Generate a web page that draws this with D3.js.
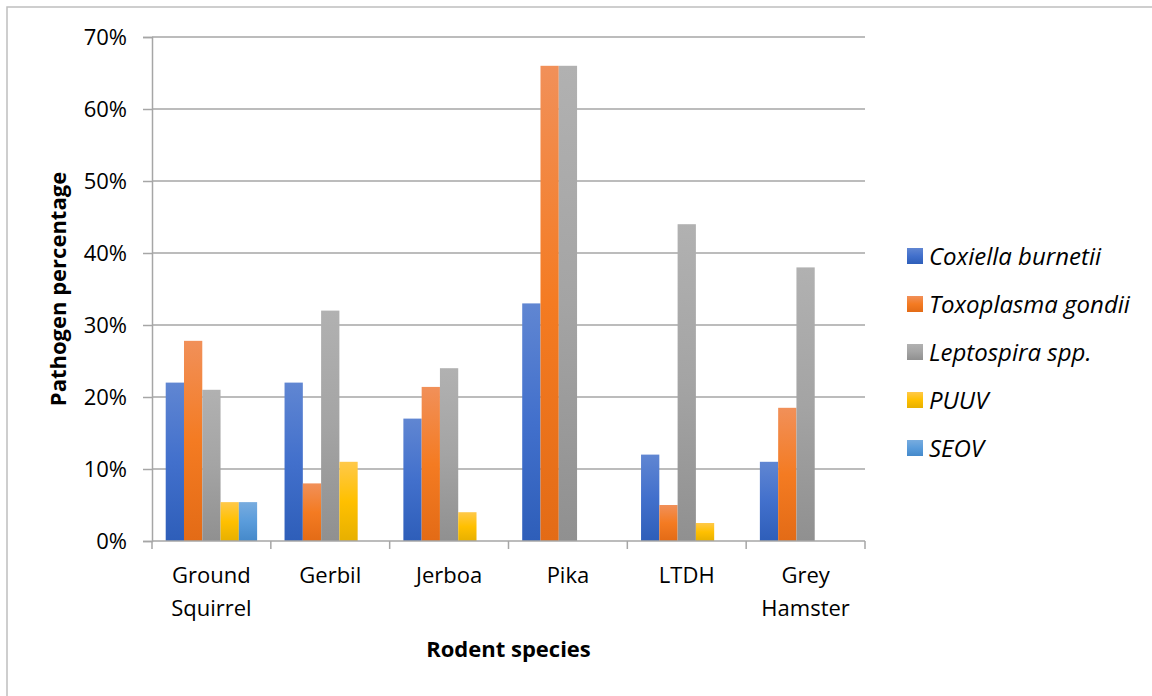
<!DOCTYPE html>
<html lang="en">
<head>
    <meta charset="UTF-8">
    <title>Pathogen percentage by rodent species</title>
    <script src="https://d3js.org/d3.v7.min.js"></script>
    <style>
        body {
            margin: 0;
            background-color: #ffffff;
            font-family: "Open Sans", Arial, sans-serif;
        }
        svg text {
            fill: #000000;
        }
    </style>
</head>
<body>
    <svg width="1152" height="696"></svg>

    <script>
        // Data
        var categories = [["Ground", "Squirrel"], ["Gerbil"], ["Jerboa"], ["Pika"], ["LTDH"], ["Grey", "Hamster"]];
        var seriesNames = ["Coxiella burnetii", "Toxoplasma gondii", "Leptospira spp.", "PUUV", "SEOV"];
        var coxiella   = [0.22, 0.22, 0.17, 0.33, 0.12, 0.11];
        var toxoplasma = [0.278, 0.08, 0.214, 0.66, 0.05, 0.185];
        var leptospira = [0.21, 0.32, 0.24, 0.66, 0.44, 0.38];
        var puuv       = [0.054, 0.11, 0.04, 0, 0.025, 0];
        var seov       = [0.054, 0, 0, 0, 0, 0];
        var yTicks = [0, 0.1, 0.2, 0.3, 0.4, 0.5, 0.6, 0.7];

        var seriesValues = [coxiella, toxoplasma, leptospira, puuv, seov];

        // gradient stops per series: top, middle, bottom
        var gradients = [
            ["#6086d2", "#4270cc", "#2e5eb9"],
            ["#f19059", "#f47b22", "#e36b16"],
            ["#b1b1b1", "#a4a4a4", "#909090"],
            ["#ffc94a", "#ffc000", "#e7b000"],
            ["#78acdf", "#5a9cdb", "#4589ca"]
        ];

        var margin = { top: 37, left: 152, right: 287, bottom: 155 };
        var width = 1152 - margin.left - margin.right,
            height = 696 - margin.top - margin.bottom;

        var svg = d3.select("svg");

        // chart frame
        svg.append("rect")
            .attr("x", 7).attr("y", 7)
            .attr("width", 1160).attr("height", 720)
            .attr("fill", "none")
            .attr("stroke", "#bfbfbf")
            .attr("stroke-width", 1.5);

        var defs = svg.append("defs");
        gradients.forEach(function(g, i) {
            var lg = defs.append("linearGradient")
                .attr("id", "grad" + i)
                .attr("x1", 0).attr("y1", 0).attr("x2", 0).attr("y2", 1);
            lg.append("stop").attr("offset", "0%").attr("stop-color", g[0]);
            lg.append("stop").attr("offset", "50%").attr("stop-color", g[1]);
            lg.append("stop").attr("offset", "100%").attr("stop-color", g[2]);
        });

        var g = svg.append("g")
            .attr("transform", "translate(" + margin.left + "," + margin.top + ")");

        var catIndex = d3.range(categories.length);

        var x0 = d3.scaleBand()
            .domain(catIndex)
            .range([0, width])
            .padding(0);

        // Excel style gap width 150%
        var gap = x0.bandwidth() * 1.5 / 6.5;
        var x1 = d3.scaleBand()
            .domain(d3.range(seriesNames.length))
            .range([gap / 2, x0.bandwidth() - gap / 2])
            .padding(0);

        var y = d3.scaleLinear()
            .domain([0, 0.7])
            .range([height, 0]);

        // gridlines
        g.append("g")
            .selectAll("line")
            .data(yTicks.slice(1))
            .enter().append("line")
            .attr("x1", 0).attr("x2", width)
            .attr("y1", function(d) { return y(d); })
            .attr("y2", function(d) { return y(d); })
            .attr("stroke", "#a6a6a6")
            .attr("stroke-width", 1.5);

        // bars
        g.append("g")
            .selectAll("g")
            .data(catIndex)
            .enter().append("g")
            .attr("transform", function(c) { return "translate(" + x0(c) + ",0)"; })
            .selectAll("rect")
            .data(function(c) {
                return seriesValues.map(function(vals, s) { return { s: s, v: vals[c] }; });
            })
            .enter().append("rect")
            .filter(function(d) { return d.v > 0; })
            .attr("x", function(d) { return x1(d.s); })
            .attr("y", function(d) { return y(d.v); })
            .attr("width", x1.bandwidth())
            .attr("height", function(d) { return height - y(d.v); })
            .attr("fill", function(d) { return "url(#grad" + d.s + ")"; });

        // y axis
        var yAxis = g.append("g")
            .call(d3.axisLeft(y)
                .tickValues(yTicks)
                .tickSize(9)
                .tickPadding(16)
                .tickFormat(d3.format(".0%")));
        yAxis.select(".domain").attr("stroke", "#a6a6a6").attr("stroke-width", 1.5);
        yAxis.selectAll(".tick line").attr("stroke", "#a6a6a6").attr("stroke-width", 1.5);
        yAxis.selectAll(".tick text")
            .attr("font-family", "Open Sans")
            .attr("font-size", 22)
            .attr("fill", "#000");

        // x axis
        var xAxisG = g.append("g")
            .attr("transform", "translate(0," + height + ")");
        xAxisG.append("line")
            .attr("x1", 0).attr("x2", width)
            .attr("stroke", "#a6a6a6").attr("stroke-width", 1.5);
        xAxisG.selectAll(".xtick")
            .data(d3.range(categories.length + 1))
            .enter().append("line")
            .attr("x1", function(i) { return i * x0.step(); })
            .attr("x2", function(i) { return i * x0.step(); })
            .attr("y1", 0).attr("y2", 8)
            .attr("stroke", "#a6a6a6").attr("stroke-width", 1.5);

        xAxisG.selectAll(".xlabel")
            .data(catIndex)
            .enter().append("text")
            .attr("text-anchor", "middle")
            .attr("font-family", "Open Sans")
            .attr("font-size", 22)
            .attr("transform", function(c) {
                return "translate(" + (x0(c) + x0.bandwidth() / 2) + ",42)";
            })
            .selectAll("tspan")
            .data(function(c) { return categories[c]; })
            .enter().append("tspan")
            .attr("x", 0)
            .attr("dy", function(d, i) { return i === 0 ? 0 : 33; })
            .text(function(d) { return d; });

        // axis titles
        svg.append("text")
            .attr("x", margin.left + width / 2)
            .attr("y", 657)
            .attr("text-anchor", "middle")
            .attr("font-family", "Open Sans")
            .attr("font-weight", "bold")
            .attr("font-size", 22)
            .text("Rodent species");

        svg.append("text")
            .attr("transform", "translate(66," + (margin.top + height / 2) + ") rotate(-90)")
            .attr("text-anchor", "middle")
            .attr("font-family", "Open Sans")
            .attr("font-weight", "bold")
            .attr("font-size", 22)
            .text("Pathogen percentage");

        // legend
        var legend = svg.append("g")
            .selectAll("g")
            .data(seriesNames)
            .enter().append("g")
            .attr("transform", function(d, i) { return "translate(907," + (256 + i * 48) + ")"; });

        legend.append("rect")
            .attr("x", 0).attr("y", -8)
            .attr("width", 16).attr("height", 16)
            .attr("fill", function(d, i) { return "url(#grad" + i + ")"; });

        legend.append("text")
            .attr("x", 22)
            .attr("y", 9)
            .attr("font-family", "Open Sans")
            .attr("font-style", "italic")
            .attr("font-size", 24)
            .text(function(d) { return d; });
    </script>
</body>
</html>
